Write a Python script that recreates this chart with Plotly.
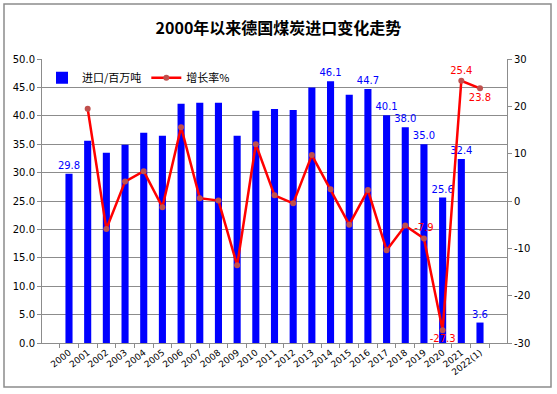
import plotly.graph_objects as go

years = ["2000", "2001", "2002", "2003", "2004", "2005", "2006", "2007", "2008", "2009",
         "2010", "2011", "2012", "2013", "2014", "2015", "2016", "2017", "2018", "2019",
         "2020", "2021", "2022(1)"]
imports = [29.8, 35.6, 33.5, 34.9, 37.0, 36.5, 42.1, 42.3, 42.3, 36.5,
           40.9, 41.2, 41.0, 45.0, 46.1, 43.7, 44.7, 40.1, 38.0, 35.0,
           25.6, 32.4, 3.6]
growth = [None, 19.5, -5.9, 4.1, 6.3, -1.3, 15.6, 0.6, 0.1, -13.6,
          12.0, 1.2, -0.5, 9.7, 2.5, -5.0, 2.3, -10.4, -5.2, -7.9,
          -27.3, 25.4, 23.8]
right_ticks = [-30, -20, -10, 0, 10, 20, 30]
right_tick_text = ["-30", "-20", "-10", "0", "10", "20", "30"]
bar_labeled = {"2000", "2014", "2016", "2017", "2018", "2019", "2020", "2021", "2022(1)"}
line_labeled = {"2019": "top center", "2020": "bottom center", "2021": "top center", "2022(1)": "bottom center"}

bar_text = [f"{v:.1f}" if y in bar_labeled else "" for y, v in zip(years, imports)]
line_text = [f"{g:.1f}" if (y in line_labeled and g is not None) else "" for y, g in zip(years, growth)]
line_pos = [line_labeled.get(y, "top center") for y in years]

FONT = "DejaVu Sans, Noto Sans CJK SC"
CJK = "Noto Sans CJK SC, DejaVu Sans"
GRID = "#8c8c8c"

fig = go.Figure()
fig.add_trace(go.Bar(
    x=years, y=imports, name="进口/百万吨",
    marker=dict(color="#0000FF", line=dict(width=0)),
    text=bar_text, textposition="outside", cliponaxis=False, constraintext="none",
    textfont=dict(color="#0000FF", size=10, family=FONT),
    yaxis="y",
))
fig.add_trace(go.Scatter(
    x=years, y=growth, name="增长率%", mode="lines+markers+text",
    line=dict(color="#FF0000", width=2.5),
    marker=dict(color="#C0504D", size=6),
    text=line_text, textposition=line_pos, cliponaxis=False,
    textfont=dict(color="#FF0000", size=10, family=FONT),
    yaxis="y2",
))

fig.update_layout(
    width=557, height=394,
    margin=dict(l=42, r=50, t=59, b=51),
    paper_bgcolor="white", plot_bgcolor="white",
    bargap=0.62,
    showlegend=True,
    title=dict(text="<b>2000年以来德国煤炭进口变化走势</b>", x=0.5, xanchor="center",
               y=1 - 28 / 394, yanchor="middle", yref="container",
               font=dict(size=16, family=CJK, color="black")),
    legend=dict(orientation="h", x=0.0, y=0.985, xanchor="left", yanchor="top",
                bgcolor="rgba(0,0,0,0)", font=dict(size=11, family=CJK, color="black"),
                itemwidth=30, tracegroupgap=0),
    xaxis=dict(type="category", tickson="boundaries", ticks="outside", ticklen=4,
               tickcolor=GRID, showline=True, linecolor=GRID, linewidth=1,
               tickangle=-38, tickfont=dict(size=9, family=FONT, color="black"),
               showgrid=False),
    yaxis=dict(range=[0, 50], dtick=5, tickformat=".1f", ticks="outside", ticklen=4,
               tickcolor=GRID, showline=True, linecolor=GRID, linewidth=1,
               showgrid=True, gridcolor=GRID, gridwidth=1, zeroline=False,
               tickfont=dict(size=10, family=FONT, color="black")),
    yaxis2=dict(range=[-30, 30], tickvals=right_ticks, ticktext=right_tick_text,
                overlaying="y", side="right",
                ticks="outside", ticklen=4, tickcolor=GRID, showline=True,
                linecolor=GRID, linewidth=1, showgrid=False, zeroline=False,
                tickfont=dict(size=10, family=FONT, color="black")),
    shapes=[dict(type="rect", xref="paper", yref="paper",
                 x0=(4 - 42) / 465, x1=(551 - 42) / 465,
                 y0=(343 - 387) / 284, y1=(343 - 4) / 284,
                 line=dict(color="#8c8c8c", width=1.5), fillcolor="rgba(0,0,0,0)",
                 layer="below")],
)

fig.write_html("out.html", config={"displayModeBar": False},
               post_script="document.body.style.margin='0';document.body.style.overflow='hidden';")
